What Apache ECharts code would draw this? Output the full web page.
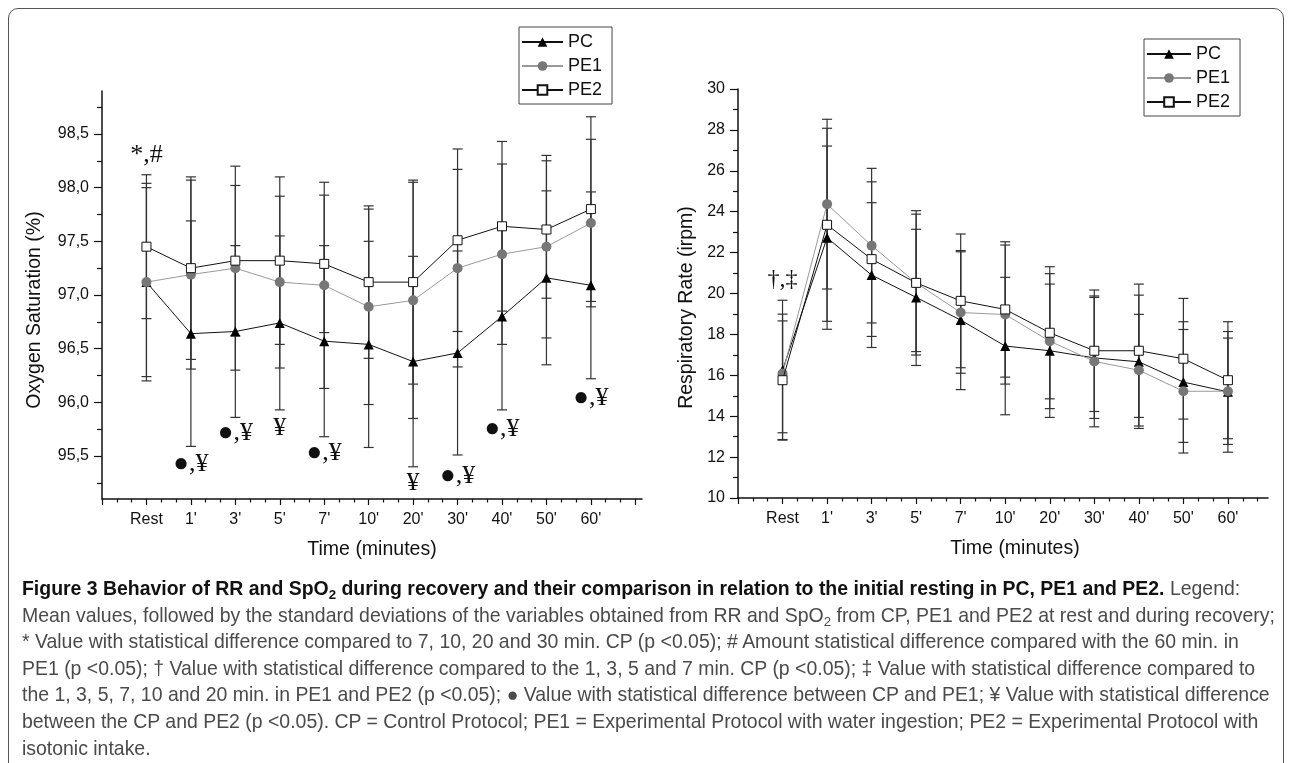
<!DOCTYPE html>
<html>
<head>
<meta charset="utf-8">
<script src="https://cdn.jsdelivr.net/npm/echarts@6/dist/echarts.min.js"></script>
<style>
html, body { margin: 0; padding: 0; background: #fff; }
#wrap { position: relative; width: 1292px; height: 763px; overflow: hidden; }
#frame { position: absolute; left: 8px; top: 8px; width: 1274px; height: 780px; border: 1.5px solid #555; border-radius: 10px; }
#chart { position: absolute; left: 0; top: 0; width: 1292px; height: 763px; }
#caption { position: absolute; left: 22px; top: 575px; font-family: "Liberation Sans", Arial, sans-serif; font-size: 16px; color: #4a4a4a; }
#caption div { white-space: nowrap; height: 26.6px; line-height: 26.6px; }
#caption b { color: #111; }
#caption sub { font-size: 68%; vertical-align: -0.3em; line-height: 0; }
</style>
</head>
<body>
<div id="wrap">
  <div id="frame"></div>
  <div id="chart"></div>
  <div id="caption">
    <div><span><b>Figure 3 Behavior of RR and SpO<sub>2</sub> during recovery and their comparison in relation to the initial resting in PC, PE1 and PE2.</b> Legend:</span></div>
    <div><span id="refLine">Mean values, followed by the standard deviations of the variables obtained from RR and SpO<sub>2</sub> from CP, PE1 and PE2 at rest and during recovery;</span></div>
    <div><span>* Value with statistical difference compared to 7, 10, 20 and 30 min. CP (p &lt;0.05); # Amount statistical difference compared with the 60 min. in</span></div>
    <div><span>PE1 (p &lt;0.05); † Value with statistical difference compared to the 1, 3, 5 and 7 min. CP (p &lt;0.05); ‡ Value with statistical difference compared to</span></div>
    <div><span>the 1, 3, 5, 7, 10 and 20 min. in PE1 and PE2 (p &lt;0.05); ● Value with statistical difference between CP and PE1; ¥ Value with statistical difference</span></div>
    <div><span>between the CP and PE2 (p &lt;0.05). CP = Control Protocol; PE1 = Experimental Protocol with water ingestion; PE2 = Experimental Protocol with</span></div>
    <div><span>isotonic intake.</span></div>
  </div>
</div>
<script>
// categories on the x axis (same for both panels)
var categories = ['Rest', "1'", "3'", "5'", "7'", "10'", "20'", "30'", "40'", "50'", "60'"];

// SpO2 (%) means and SDs
var spo2PC  = [97.12, 96.64, 96.66, 96.74, 96.57, 96.54, 96.38, 96.46, 96.80, 97.16, 97.09];
var spo2PE1 = [97.12, 97.19, 97.25, 97.12, 97.09, 96.89, 96.95, 97.25, 97.38, 97.45, 97.67];
var spo2PE2 = [97.45, 97.25, 97.32, 97.32, 97.29, 97.12, 97.12, 97.51, 97.64, 97.61, 97.80];
var spo2PCsd  = [0.88, 1.05, 0.80, 0.81, 0.89, 0.96, 0.98, 0.95, 0.87, 0.81, 0.87];
var spo2PE1sd = [0.92, 0.88, 0.95, 0.80, 0.96, 0.91, 1.10, 0.92, 0.84, 0.85, 0.78];
var spo2PE2sd = [0.67, 0.85, 0.70, 0.78, 0.64, 0.71, 0.95, 0.85, 0.79, 0.64, 0.86];

// RR (irpm) means and SDs
var rrPC  = [16.25, 22.73, 20.90, 19.81, 18.70, 17.43, 17.20, 16.85, 16.66, 15.67, 15.19];
var rrPE1 = [16.09, 24.37, 22.34, 20.52, 19.07, 18.97, 17.67, 16.68, 16.25, 15.22, 15.22];
var rrPE2 = [15.76, 23.36, 21.68, 20.52, 19.64, 19.22, 18.08, 17.20, 17.20, 16.81, 15.76];
var rrPCsd  = [3.42, 4.48, 3.54, 3.33, 3.40, 3.36, 3.26, 2.96, 3.26, 2.95, 2.95];
var rrPE1sd = [2.90, 4.15, 3.78, 3.36, 2.97, 3.40, 3.30, 3.20, 2.73, 3.02, 2.60];
var rrPE2sd = [2.90, 4.72, 3.78, 3.53, 3.27, 3.31, 3.23, 2.97, 3.26, 2.95, 2.86];

// significance marks: [category index, value, text]
var spo2Marks = [[0, 98.30, '*,#'], [1, 95.42, '●,¥'], [2, 95.71, '●,¥'], [3, 95.76, '¥'],
                 [4, 95.53, '●,¥'], [6, 95.25, '¥'], [7, 95.31, '●,¥'], [8, 95.75, '●,¥'], [10, 96.04, '●,¥']];
var rrMarks = [[0, 20.66, '†,‡']];

// tick values
var spo2Ticks = [95.5, 96.0, 96.5, 97.0, 97.5, 98.0, 98.5];
var spo2MinorTicks = [95.25, 95.75, 96.25, 96.75, 97.25, 97.75, 98.25, 98.75];
var xTicks = [-1, 0, 1, 2, 3, 4, 5, 6, 7, 8, 9, 10, 11];
var xLabelTicks = [0, 1, 2, 3, 4, 5, 6, 7, 8, 9, 10];

var FONT = '"Liberation Sans", Arial, sans-serif';
var xMinorTicks = [];
xTicks.forEach(function (t) { xMinorTicks.push(t + 1 / 3, t + 2 / 3); });

function pts(arr) { return arr.map(function (v, i) { return [i, v]; }); }
function bars(means, sds) { return means.map(function (m, i) { return [i, m - sds[i], m + sds[i]]; }); }

function errorBarItem(params, api) {
  var x = api.value(0);
  var lo = api.coord([x, api.value(1)]);
  var hi = api.coord([x, api.value(2)]);
  var w = 5;
  var st = { stroke: '#333', lineWidth: 1.2 };
  return { type: 'group', children: [
    { type: 'line', shape: { x1: lo[0], y1: lo[1], x2: hi[0], y2: hi[1] }, style: st },
    { type: 'line', shape: { x1: lo[0] - w, y1: lo[1], x2: lo[0] + w, y2: lo[1] }, style: st },
    { type: 'line', shape: { x1: hi[0] - w, y1: hi[1], x2: hi[0] + w, y2: hi[1] }, style: st }
  ] };
}

function xAxes(grid, max, namePad) {
  return [{
    gridIndex: grid, type: 'value', position: 'bottom', min: -1, max: max,
    name: 'Time (minutes)', nameLocation: 'middle', nameGap: 41,
    nameTextStyle: { fontFamily: FONT, fontSize: 19.5, color: '#111', padding: namePad },
    axisLine: { onZero: false, lineStyle: { color: '#111', width: 1.5 } },
    axisTick: { customValues: xTicks, length: 6, lineStyle: { color: '#111', width: 1.2 } },
    axisLabel: { customValues: xLabelTicks, margin: 13, fontFamily: FONT, fontSize: 16, color: '#111',
                 formatter: function (v) { return categories[Math.round(v)]; } },
    splitLine: { show: false }
  }, {
    gridIndex: grid, type: 'value', position: 'bottom', min: -1, max: max,
    axisLine: { show: false, onZero: false },
    axisTick: { customValues: xMinorTicks, length: 3.5, lineStyle: { color: '#111', width: 1.2 } },
    axisLabel: { show: false }, splitLine: { show: false }
  }];
}

function lineSeries(xi, yi, pc, pe1, pe2) {
  return [
    { name: 'PC', type: 'line', xAxisIndex: xi, yAxisIndex: yi, data: pts(pc), z: 3,
      symbol: 'triangle', symbolSize: 10, lineStyle: { color: '#111', width: 1 },
      itemStyle: { color: '#000' } },
    { name: 'PE1', type: 'line', xAxisIndex: xi, yAxisIndex: yi, data: pts(pe1), z: 3,
      symbol: 'circle', symbolSize: 10, lineStyle: { color: '#999', width: 1 },
      itemStyle: { color: '#777' } },
    { name: 'PE2', type: 'line', xAxisIndex: xi, yAxisIndex: yi, data: pts(pe2), z: 4,
      symbol: 'rect', symbolSize: 9, lineStyle: { color: '#111', width: 1 },
      itemStyle: { color: '#fff', borderColor: '#111', borderWidth: 1 } }
  ];
}

function markSeries(xi, yi, marks, size) {
  return { type: 'scatter', xAxisIndex: xi, yAxisIndex: yi, symbolSize: 1, z: 5,
    itemStyle: { color: 'rgba(0,0,0,0)' }, silent: true,
    data: marks.map(function (m) { return { value: [m[0], m[1]], name: m[2] }; }),
    label: { show: true, position: 'inside', formatter: '{b}', color: '#111', opacity: 1,
             fontFamily: '"Liberation Serif", "DejaVu Serif", serif', fontSize: size } };
}

function legendAt(left, top, w) {
  return { data: ['PC', 'PE1', 'PE2'], orient: 'vertical', left: left, top: top,
    itemWidth: w, itemHeight: 12, itemGap: 6, padding: [6, 10, 5, 2],
    borderColor: '#444', borderWidth: 1, selectedMode: false,
    textStyle: { fontFamily: FONT, fontSize: 18, color: '#111' } };
}

var chart = echarts.init(document.getElementById('chart'));
chart.setOption({
  animation: false,
  grid: [
    { left: 102, top: 91, width: 540, height: 408 },
    { left: 738, top: 89, width: 530, height: 409 }
  ],
  legend: [legendAt(519, 27, 41), legendAt(1144, 39, 44)],
  xAxis: xAxes(0, 11.15, [0, 0, 0, 0]).concat(xAxes(1, 10.9, [0, 0, 0, 24])),
  yAxis: [
    { gridIndex: 0, type: 'value', position: 'left', min: 95.1, max: 98.9,
      name: 'Oxygen Saturation (%)', nameLocation: 'middle', nameGap: 57,
      nameTextStyle: { fontFamily: FONT, fontSize: 19.5, color: '#111', padding: [0, 30, 0, 0] },
      axisLine: { show: true, onZero: false, lineStyle: { color: '#111', width: 1.5 } },
      axisTick: { show: true, customValues: spo2Ticks, length: 8, lineStyle: { color: '#111', width: 1.2 } },
      axisLabel: { customValues: spo2Ticks, margin: 13, fontFamily: FONT, fontSize: 16, color: '#111',
                   formatter: function (v) { return v.toFixed(1).replace('.', ','); } },
      splitLine: { show: false } },
    { gridIndex: 0, type: 'value', position: 'left', min: 95.1, max: 98.9,
      axisLine: { show: false, onZero: false },
      axisTick: { show: true, customValues: spo2MinorTicks, length: 5, lineStyle: { color: '#111', width: 1.2 } },
      axisLabel: { show: false }, splitLine: { show: false } },
    { gridIndex: 1, type: 'value', position: 'left', min: 10, max: 30, interval: 2,
      name: 'Respiratory Rate (irpm)', nameLocation: 'middle', nameGap: 41,
      nameTextStyle: { fontFamily: FONT, fontSize: 19.5, color: '#111', padding: [0, 28, 0, 0] },
      axisLine: { show: true, onZero: false, lineStyle: { color: '#111', width: 1.5 } },
      axisTick: { show: true, length: 8, lineStyle: { color: '#111', width: 1.2 } },
      minorTick: { show: true, splitNumber: 2, length: 5, lineStyle: { color: '#111', width: 1.2 } },
      axisLabel: { margin: 13, fontFamily: FONT, fontSize: 16, color: '#111' },
      splitLine: { show: false } },
    { gridIndex: 1, type: 'value', position: 'left', min: 10, max: 30, show: false }
  ],
  series: [
    { type: 'custom', xAxisIndex: 0, yAxisIndex: 0, z: 1, renderItem: errorBarItem, encode: { x: 0, y: [1, 2] },
      data: bars(spo2PC, spo2PCsd).concat(bars(spo2PE1, spo2PE1sd), bars(spo2PE2, spo2PE2sd)) },
    { type: 'custom', xAxisIndex: 2, yAxisIndex: 2, z: 1, renderItem: errorBarItem, encode: { x: 0, y: [1, 2] },
      data: bars(rrPC, rrPCsd).concat(bars(rrPE1, rrPE1sd), bars(rrPE2, rrPE2sd)) }
  ].concat(
    lineSeries(0, 0, spo2PC, spo2PE1, spo2PE2),
    lineSeries(2, 2, rrPC, rrPE1, rrPE2),
    [markSeries(0, 0, spo2Marks, 26), markSeries(2, 2, rrMarks, 24)]
  )
});

// size the caption font so the full-width line spans the same width as in the figure
var ref = document.getElementById('refLine');
var w = ref.getBoundingClientRect().width;
document.getElementById('caption').style.fontSize = (16 * 1254 / w).toFixed(2) + 'px';
</script>
</body>
</html>
